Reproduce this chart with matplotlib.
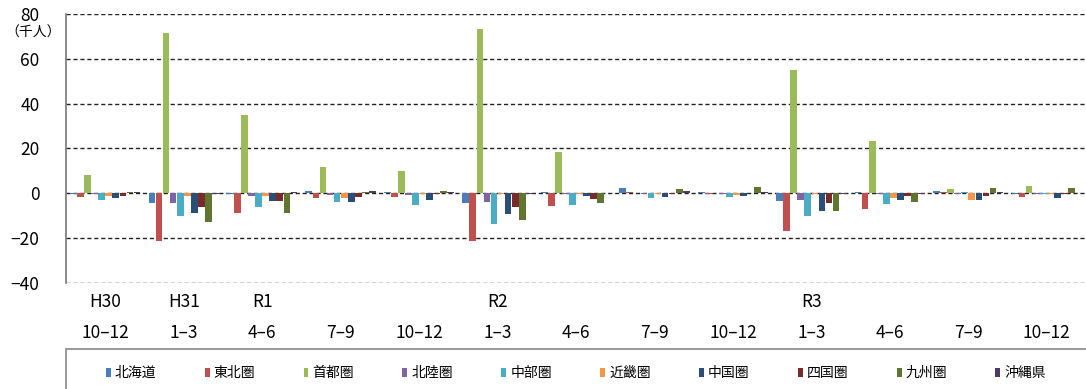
import matplotlib
matplotlib.use("Agg")
import matplotlib.pyplot as plt
from matplotlib.patches import Patch, Rectangle
import numpy as np

plt.rcParams['font.family'] = ['Noto Sans CJK JP', 'DejaVu Sans']

years = ["H30", "H31", "R1", "", "", "R2", "", "", "", "R3", "", "", ""]
quarters = ["10-12", "1-3", "4-6", "7-9", "10-12", "1-3", "4-6", "7-9", "10-12", "1-3", "4-6", "7-9", "10-12"]

regions = ["北海道", "東北圏", "首都圏", "北陸圏", "中部圏", "近畿圏", "中国圏", "四国圏", "九州圏", "沖縄県"]

hokkaido = [-0.5, -4.4, -0.5, 1.2, 0.4, -4.3, 0.5, 2.4, 0.5, -3.6, 0.5, 1.2, -0.3]
tohoku   = [-1.5, -21.3, -8.7, -2.2, -1.5, -21.3, -5.8, 0.5, -0.3, -16.9, -7.0, 0.4, -1.5]
shutoken = [8.3, 71.7, 34.8, 11.9, 10.0, 73.5, 18.4, 0.3, 0.3, 55.0, 23.2, 1.8, 3.4]
hokuriku = [-0.5, -4.4, -1.3, -0.7, -0.7, -4.0, -0.5, -0.3, -0.3, -3.0, -0.5, -0.3, -0.3]
chubu    = [-2.8, -9.9, -6.2, -4.0, -5.0, -13.9, -5.0, -2.2, -1.8, -9.9, -4.7, 0.5, -0.3]
kinki    = [-1.3, -1.0, -1.3, -2.0, -0.5, -0.5, -0.5, -0.5, -0.7, -0.5, -2.2, -3.0, -0.5]
chugoku  = [-2.2, -8.6, -3.6, -4.0, -2.8, -9.2, -1.0, -1.5, -1.0, -7.7, -3.0, -3.0, -2.2]
shikoku  = [-1.0, -6.2, -3.6, -1.5, -0.5, -6.2, -2.5, -0.5, 0.3, -4.3, -1.3, -1.0, -0.5]
kyushu   = [0.6, -12.9, -8.7, 0.7, 1.2, -12.1, -4.4, 1.8, 3.0, -7.7, -4.0, 2.4, 2.4]
okinawa  = [0.5, -0.5, 0.5, 1.2, 0.5, -0.5, 0.3, 1.2, 0.5, -0.5, -0.3, 0.5, 0.3]

series = [hokkaido, tohoku, shutoken, hokuriku, chubu, kinki, chugoku, shikoku, kyushu, okinawa]
colors = ["#4A7EBB", "#C0504D", "#9BBB59", "#8064A2", "#4BACC6",
          "#F79646", "#2C4D75", "#772C2A", "#5F7530", "#4D3B62"]

fig = plt.figure(figsize=(10.86, 3.89), dpi=100)
ax = fig.add_axes([66/1086, 1-283/389, 1-66/1086, (283-14)/389])

x = np.arange(len(quarters))
n = len(series)
w = 0.09
for i, (vals, c) in enumerate(zip(series, colors)):
    ax.bar(x + (i - (n-1)/2) * w, vals, width=w*0.95, color=c, zorder=3)

ax.set_xlim(-0.5, len(quarters) - 0.5)
ax.set_ylim(-40, 80)
ax.set_yticks(np.arange(-40, 81, 20))
ax.yaxis.grid(True, linestyle=(0, (3, 2)), color="#222222", linewidth=1.0, zorder=1)
ax.tick_params(axis='y', length=0, labelsize=12.5, pad=19)
ax.set_xticks([])
for s in ["top", "right", "bottom"]:
    ax.spines[s].set_visible(False)
ax.spines["left"].set_color("#777777")
ax.spines["left"].set_linewidth(1.2)

trans = ax.get_xaxis_transform()
for xi, (yy, qq) in enumerate(zip(years, quarters)):
    if yy:
        ax.text(xi, -0.07, yy, transform=trans, ha="center", va="center", fontsize=12.5)
    ax.text(xi, -0.185, qq.replace("-", "–"), transform=trans, ha="center", va="center", fontsize=12.5)

fig.text(33/1086, 1-33/389, "（千人）", ha="center", va="center", fontsize=10)

# legend box
fig.patches.append(Rectangle((66/1086, -0.05), 1.2, 0.05 + 1 - 349/389, transform=fig.transFigure,
                             fill=False, edgecolor="#888888", linewidth=1.2))
handles = [Patch(facecolor=c, edgecolor="none") for c in colors]
fig.legend(handles, regions, loc="center", bbox_to_anchor=(576/1086, 1-373/389), ncol=10,
           frameon=False, fontsize=10, handlelength=0.35, handleheight=0.6, handletextpad=0.3,
           columnspacing=3.47)

fig.savefig("out.png", dpi=100)
